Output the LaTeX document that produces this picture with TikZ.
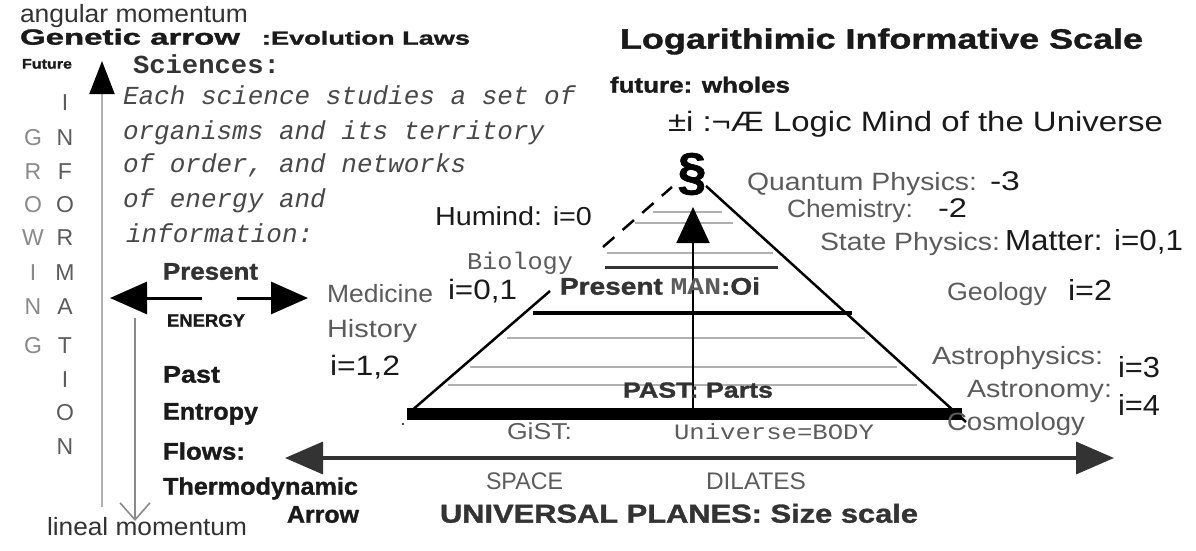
\documentclass[tikz,border=0pt]{standalone}
\usepackage{fontspec}
\setmainfont{Liberation Sans}
\setmonofont{Liberation Mono}
\newfontfamily\heavyfont[FakeBold=1.2]{Liberation Sans Bold}
\usepackage{graphicx}
\usetikzlibrary{arrows.meta}
\definecolor{tg}{HTML}{5C5C5C}
\definecolor{tk}{HTML}{1A1A1A}
\definecolor{td}{HTML}{333333}
\definecolor{ti}{HTML}{484848}
\definecolor{lg}{HTML}{B0B0B0}
\definecolor{mg}{HTML}{8A8A8A}
\newcommand{\fitw}[2]{\resizebox{#1pt}{\height}{#2}}
\newcommand{\fz}[1]{\fontsize{#1}{#1}\selectfont}
\begin{document}
\begin{tikzpicture}[x=1pt,y=-1pt,
  every node/.style={inner sep=0pt,outer sep=0pt,anchor=mid west},
  gsans/.style={text=tg,font=\fz{#1}},
  ksans/.style={text=tk,font=\fz{#1}},
  kbold/.style={text=tk,font=\fz{#1}\heavyfont},
  itmono/.style={text=ti,font=\fz{26}\ttfamily\itshape},
  vlet/.style={anchor=center,font=\fz{23},text=#1},
  thinrule/.style={draw=lg,line width=2pt},
  edge/.style={draw=black,line width=2.5pt},
]
\useasboundingbox[fill=white] (0,0) rectangle (1196,550);

% ---------- left column ----------
\node[gsans=25,text=td] (angm) at (20,20) {\fitw{228}{angular momentum}};
\node[kbold=22] (genar) at (20,42) {\fitw{220}{Genetic arrow}};
\node[kbold=19] (evol) at (262,42) {\fitw{208}{:Evolution Laws}};
\node[kbold=14] (fut) at (22,66) {\fitw{50}{Future}};

\node[text=td,font=\fz{26}\ttfamily\bfseries] (sci) at (133,71) {\fitw{147}{Sciences:}};
\node[itmono] (l1) at (123,102) {Each science studies a set of};
\node[itmono] (l2) at (123,137) {organisms and its territory};
\node[itmono] (l3) at (123,170) {of order, and networks};
\node[itmono] (l4) at (123,205) {of energy and};
\node[itmono] (l5) at (126,240) {information:};

% vertical words
\foreach \ch/\yy [count=\k] in {G/138,R/172,O/205,W/238,I/273,N/307,G/346}
  \node[vlet=mg] (gr\k) at (33,\yy) {\ch};
\foreach \ch/\yy [count=\k] in {I/103,N/138,F/172,O/205,R/238,M/273,A/307,T/346,I/380,O/413,N/447}
  \node[vlet=tg] (inf\k) at (65,\yy) {\ch};

% growing information arrow (up) and lineal momentum arrow (down)
\coordinate (upB) at (102,507);
\coordinate (upT) at (102,61);
\draw[draw=lg,line width=2pt,-{Triangle[length=33pt,width=25pt,color=black,fill=black]}] (upB) -- (upT);
\coordinate (dnT) at (135,318);
\coordinate (dnB) at (135,521);
\draw[draw=mg,line width=1.6pt,-{Straight Barb[length=17pt,width=30pt]}] (dnT) -- (dnB);

\node[kbold=24,text=td] (pres) at (163,277) {\fitw{95}{Present}};
\coordinate (prL) at (202,298);
\coordinate (prLt) at (110,298);
\coordinate (prR) at (237,298);
\coordinate (prRt) at (308,298);
\draw[line width=3pt,-{Triangle[length=37pt,width=32pt]}] (prL) -- (prLt);
\draw[line width=3pt,-{Triangle[length=37pt,width=32pt]}] (prR) -- (prRt);
\node[kbold=18] (ener) at (167,324) {\fitw{78}{ENERGY}};

\node[kbold=24] (past) at (163,380) {\fitw{57}{Past}};
\node[kbold=24] (entr) at (163,417) {\fitw{95}{Entropy}};
\node[kbold=24] (flow) at (163,457) {\fitw{82}{Flows:}};
\node[kbold=24] (thermo) at (163,492) {\fitw{195}{Thermodynamic}};
\node[kbold=24] (arrw) at (287,520) {\fitw{72}{Arrow}};
\node[gsans=25,text=td] (linm) at (47,533) {\fitw{200}{lineal momentum}};

% ---------- right titles ----------
\node[kbold=28] (logt) at (620,46) {\fitw{523}{Logarithimic Informative Scale}};
\node[kbold=22] (fwh) at (610,90) {\fitw{180}{future: wholes}};
\node[ksans=28] (logic) at (668,129) {\fitw{495}{±i :¬Æ Logic Mind of the Universe}};

% ---------- pyramid ----------
\draw[thinrule] (653,212) -- (722,212);
\draw[thinrule] (635,223) -- (733,223);
\draw[thinrule] (607,253) -- (773,253);
\draw[draw=td,line width=3pt] (605,267) -- (778,267);
\draw[draw=black,line width=4pt] (533,313) -- (852,313);
\draw[thinrule] (507,338) -- (865,338);
\draw[thinrule] (470,367) -- (897,367);
\draw[thinrule] (448,385) -- (917,385);
\draw[draw=black,line width=12pt] (407,414) -- (962,414);

\coordinate (pL1) at (410,412);
\coordinate (pL2) at (550,291);
\coordinate (pL3) at (603,247);
\coordinate (pL4) at (672,187);
\coordinate (pR1) at (706,186);
\coordinate (pR2) at (966,422);
\draw[edge] (pL1) -- (pL2);
\draw[edge,dash pattern=on 15pt off 11pt] (pL3) -- (pL4);
\draw[edge] (pR1) -- (pR2);
\fill (403,424) circle (1.2pt);

\coordinate (axB) at (693,414);
\coordinate (axT) at (693,207);
\draw[line width=2pt,-{Triangle[length=36pt,width=33pt]}] (axB) -- (axT);
\node[anchor=center,font=\fz{52}\heavyfont] (sect) at (692,174) {§};

\node[ksans=26] (humind) at (435,223) {\fitw{157}{Humind: i=0}};
\node[text=tg,font=\fz{24}\ttfamily] (bio) at (467,267) {\fitw{106}{Biology}};
\node[text=td,font=\fz{24}] (pman) at (560,292) {\fitw{200}{{\heavyfont Present }{\ttfamily\bfseries\color{tg}MAN}{\heavyfont :Oi}}};
\node[gsans=25] (med) at (327,300) {\fitw{106}{Medicine}};
\node[ksans=28] (i01a) at (448,297) {\fitw{69}{i=0,1}};
\node[gsans=25] (hist) at (327,335) {\fitw{90}{History}};
\node[ksans=28] (i12) at (330,373) {\fitw{70}{i=1,2}};
\node[kbold=22,text=td] (pastp) at (623,395) {\fitw{150}{PAST: Parts}};

\node[gsans=25] (qph) at (747,188) {\fitw{230}{Quantum Physics:}};
\node[ksans=27] (m3) at (990,188) {\fitw{30}{-3}};
\node[gsans=25] (chem) at (787,215) {\fitw{126}{Chemistry:}};
\node[ksans=27] (m2) at (938,215) {\fitw{29}{-2}};
\node[gsans=25] (stph) at (820,248) {\fitw{180}{State Physics:}};
\node[ksans=29] (matt) at (1005,248) {\fitw{178}{Matter: i=0,1}};
\node[gsans=25] (geo) at (947,298) {\fitw{100}{Geology}};
\node[ksans=29] (i2) at (1068,298) {\fitw{44}{i=2}};
\node[gsans=25] (astp) at (932,362) {\fitw{171}{Astrophysics:}};
\node[ksans=29] (i3) at (1118,375) {\fitw{42}{i=3}};
\node[gsans=25] (astr) at (967,395) {\fitw{145}{Astronomy:}};
\node[ksans=29] (i4) at (1118,413) {\fitw{42}{i=4}};
\node[gsans=25] (cosm) at (947,428) {\fitw{138}{Cosmology}};

% ---------- bottom axis ----------
\node[gsans=23] (gist) at (507,437) {\fitw{65}{GiST:}};
\node[text=tg,font=\fz{22}\ttfamily] (ubody) at (674,437) {\fitw{200}{Universe=BODY}};
\coordinate (axL) at (285,458);
\coordinate (axR) at (1114,458);
\draw[draw=td,line width=3.5pt,{Triangle[length=38pt,width=32pt]}-{Triangle[length=38pt,width=32pt]}] (axL) -- (axR);
\node[gsans=24] (space) at (486,487) {\fitw{77}{SPACE}};
\node[gsans=24] (dil) at (706,487) {\fitw{100}{DILATES}};
\node[kbold=26,text=td] (univ) at (440,520) {\fitw{478}{UNIVERSAL PLANES: Size scale}};
\end{tikzpicture}
\end{document}
